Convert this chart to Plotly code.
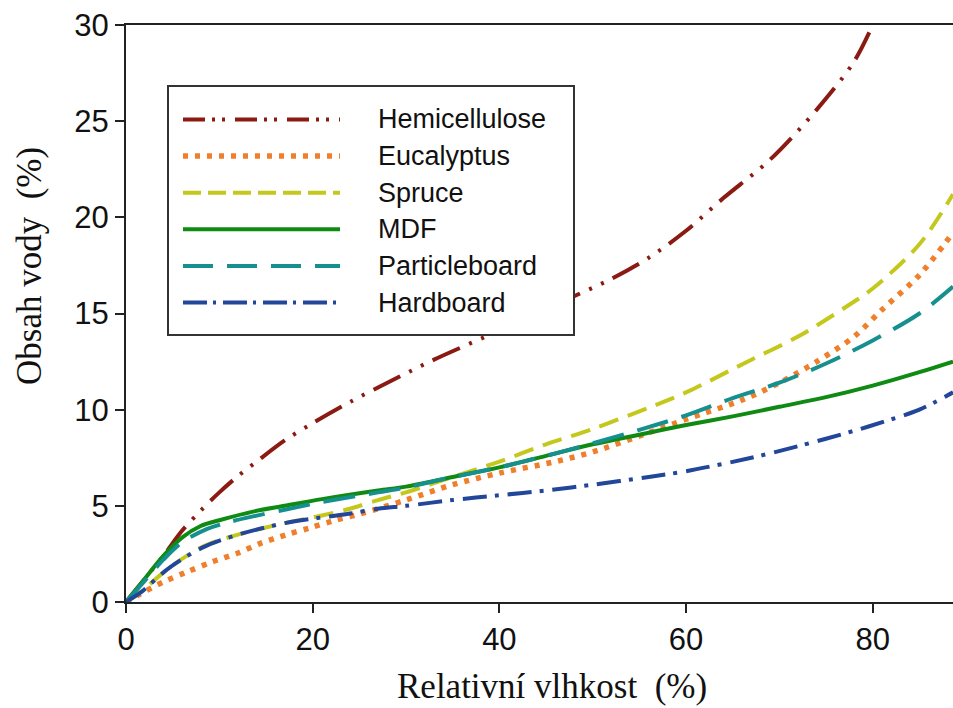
import plotly.graph_objects as go

# ---------------- data ----------------
series_names = ["Hemicellulose", "Eucalyptus", "Spruce", "MDF", "Particleboard", "Hardboard"]
colors = ["#8b1a12", "#f07f2c", "#c5c81c", "#0f8a12", "#15908e", "#22469a"]

hemi_x = [0, 2, 4, 6, 8, 10, 12, 14, 17, 20, 24, 28, 33, 39, 44, 48, 52, 56, 60, 64, 69, 74, 78, 80]
hemi_y = [0, 1.2, 2.4, 3.7, 4.75, 5.7, 6.55, 7.3, 8.4, 9.3, 10.4, 11.4, 12.6, 13.9, 15.0, 15.9, 16.8, 17.9, 19.3, 21.0, 23.0, 25.6, 28.1, 30.0]

euc_x = [0, 1.3, 4, 6.5, 9.2, 12, 14.4, 17.2, 19.7, 22.2, 25, 30, 35, 40, 46, 50, 56, 60, 66, 70, 74, 78, 81, 85, 88.6]
euc_y = [0, 0.36, 1.04, 1.56, 2.08, 2.55, 3.05, 3.5, 3.85, 4.22, 4.57, 5.3, 6.1, 6.7, 7.3, 7.8, 8.8, 9.5, 10.5, 11.4, 12.5, 13.8, 15.2, 17.0, 19.2]

spr_x = [0, 1.5, 4.7, 8.3, 12, 17, 21, 24, 27, 30, 35, 40, 45, 50, 56, 60, 67, 72, 77, 80, 85, 88.6]
spr_y = [0, 0.5, 1.8, 2.9, 3.5, 4.1, 4.5, 4.85, 5.3, 5.7, 6.5, 7.3, 8.2, 9.0, 10.1, 10.9, 12.6, 13.8, 15.3, 16.3, 18.6, 21.2]

mdf_x = [0, 2, 4, 6, 8, 10, 13.6, 17, 21, 27, 30, 35, 40, 45, 50, 55, 60, 65, 70, 75, 80, 85, 88.6]
mdf_y = [0, 1.2, 2.4, 3.35, 3.95, 4.25, 4.7, 5.0, 5.35, 5.8, 6.0, 6.5, 7.0, 7.6, 8.2, 8.7, 9.2, 9.65, 10.15, 10.65, 11.25, 11.95, 12.5]

part_x = [0, 2, 4, 6, 8.7, 11, 13.6, 17, 21, 27, 30, 35, 40, 45, 50, 55, 60, 65, 70, 75, 80, 85, 88.6]
part_y = [0, 1.1, 2.2, 3.1, 3.8, 4.15, 4.45, 4.8, 5.2, 5.7, 5.95, 6.5, 7.0, 7.6, 8.25, 8.95, 9.7, 10.6, 11.4, 12.4, 13.6, 15.0, 16.4]

hard_x = [0, 1.5, 4.7, 8.3, 12, 17, 21, 24, 27, 30, 35, 40, 45, 50, 56, 60, 67, 72, 78, 82, 85, 88.6]
hard_y = [0, 0.47, 1.8, 2.85, 3.5, 4.1, 4.4, 4.6, 4.85, 5.0, 5.3, 5.55, 5.8, 6.1, 6.5, 6.8, 7.5, 8.1, 8.9, 9.5, 10.0, 10.9]

x_ticks = [0, 20, 40, 60, 80]
y_ticks = [0, 5, 10, 15, 20, 25, 30]
x_title = "Relativní vlhkost  (%)"
y_title = "Obsah vody  (%)"

# ---------------- styles ----------------
plot_dash = ["30px,10px,3px,10px,3px,10px", "5px,7px", "20px,10px", "solid", "32px,14px", "24px,8px,4px,9px"]
legend_dash = ["22px,7px,3px,7px,3px,10px", "5px,7px", "18px,7px", "solid", "30px,14px", "24px,6px,3px,7px"]
widths = [4, 5.5, 4, 4, 4, 4]

xs = [hemi_x, euc_x, spr_x, mdf_x, part_x, hard_x]
ys = [hemi_y, euc_y, spr_y, mdf_y, part_y, hard_y]

fig = go.Figure()
for name, x, y, c, d, w in zip(series_names, xs, ys, colors, plot_dash, widths):
    fig.add_trace(go.Scatter(
        x=x, y=y, mode="lines", name=name,
        line=dict(color=c, width=w, dash=d, shape="spline", smoothing=0.9),
        showlegend=False,
    ))

# ---------------- manual legend (long line samples) ----------------
W, H = 953, 708
ml, mr, mt, mb = 126, 0, 25, 106
pw, ph = W - ml - mr, H - mt - mb


def px_x(p):
    return (p - ml) / pw


def px_y(p):
    return (H - mb - p) / ph


shapes = [dict(type="rect", xref="paper", yref="paper",
               x0=px_x(168), x1=px_x(574), y0=px_y(335), y1=px_y(86),
               line=dict(color="#333333", width=2), fillcolor="white", layer="above")]
annotations = []
row_y0, row_dy = 119.5, 36.6
for i, (name, c, d, w) in enumerate(zip(series_names, colors, legend_dash, widths)):
    yy = px_y(row_y0 + i * row_dy)
    shapes.append(dict(type="line", xref="paper", yref="paper",
                       x0=px_x(183), x1=px_x(340), y0=yy, y1=yy,
                       line=dict(color=c, width=w, dash=d), layer="above"))
    annotations.append(dict(xref="paper", yref="paper", x=px_x(376), y=yy,
                            text=name, showarrow=False, xanchor="left", yanchor="middle",
                            font=dict(family="Liberation Sans, Arial, sans-serif", size=27, color="#111")))

title_font = dict(family="Liberation Serif, Times New Roman, serif", size=35, color="#111")
annotations.append(dict(xref="paper", yref="paper", x=px_x(552), y=px_y(686),
                        text=x_title, showarrow=False, xanchor="center", yanchor="middle",
                        font=title_font))
annotations.append(dict(xref="paper", yref="paper", x=px_x(29), y=px_y(266),
                        text=y_title, showarrow=False, xanchor="center", yanchor="middle",
                        textangle=-90, font=title_font))

axis_common = dict(
    showgrid=False, zeroline=False, showline=True, linecolor="#222", linewidth=2,
    ticks="outside", ticklen=9, tickwidth=2, tickcolor="#222",
    tickfont=dict(family="Liberation Sans, Arial, sans-serif", size=31, color="#111"),
)

fig.update_layout(
    width=W, height=H,
    margin=dict(l=ml, r=mr, t=mt, b=mb),
    paper_bgcolor="white", plot_bgcolor="white",
    shapes=shapes, annotations=annotations,
    xaxis=dict(range=[0, 88.6], tickvals=x_ticks, mirror=True, **axis_common),
    yaxis=dict(range=[0, 30], tickvals=y_ticks, mirror=False, **axis_common),
)

fig.write_html("out.html")
